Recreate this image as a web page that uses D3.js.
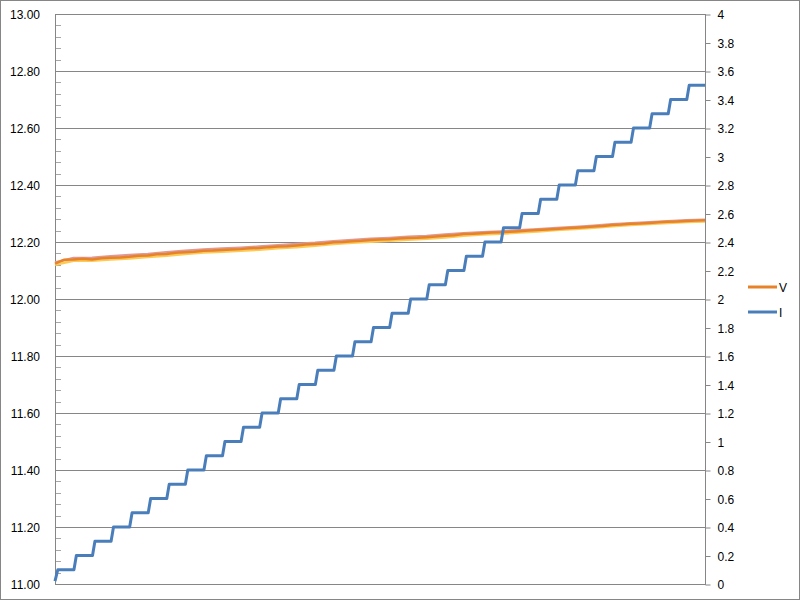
<!DOCTYPE html>
<html>
<head>
<meta charset="utf-8">
<script src="https://cdn.jsdelivr.net/npm/d3@7"></script>
<style>
  html, body { margin: 0; padding: 0; background: #fff; }
  svg { display: block; }
  text { font-family: "Liberation Sans", Arial, sans-serif; font-size: 12px; fill: #000; }
</style>
</head>
<body>
<div id="chart"></div>
<script>
// ---------- data ----------
const vTicks = [11.0, 11.2, 11.4, 11.6, 11.8, 12.0, 12.2, 12.4, 12.6, 12.8, 13.0];
const vTickLabels = ["11.00","11.20","11.40","11.60","11.80","12.00","12.20","12.40","12.60","12.80","13.00"];
const iTicks = [0,0.2,0.4,0.6,0.8,1,1.2,1.4,1.6,1.8,2,2.2,2.4,2.6,2.8,3,3.2,3.4,3.6,3.8,4];
const iTickLabels = ["0","0.2","0.4","0.6","0.8","1","1.2","1.4","1.6","1.8","2","2.2","2.4","2.6","2.8","3","3.2","3.4","3.6","3.8","4"];

const seriesNames = ["V", "I"];

// current (A) vs sample
const iTime = [0,1.5, 10.2,11.5, 20.2,21.5, 30.2,31.5, 40.2,41.5, 50.2,51.5, 60.2,61.5, 70.2,71.5, 80.2,81.5, 90.2,91.5,
  100.2,101.5, 110.2,111.5, 120.2,121.5, 130.2,131.5, 140.2,141.5, 150.2,151.5, 160.2,161.5, 170.2,171.5, 180.2,181.5, 190.2,191.5,
  200.2,201.5, 210.2,211.5, 220.2,221.5, 230.2,231.5, 240.2,241.5, 250.2,251.5, 260.2,261.5, 270.2,271.5, 280.2,281.5, 290.2,291.5,
  300.2,301.5, 310.2,311.5, 320.2,321.5, 330.2,331.5, 340.2,341.5, 350];
const iAmps = [0.02,0.1, 0.1,0.2, 0.2,0.3, 0.3,0.4, 0.4,0.5, 0.5,0.6, 0.6,0.7, 0.7,0.8, 0.8,0.9, 0.9,1.0,
  1.0,1.1, 1.1,1.2, 1.2,1.3, 1.3,1.4, 1.4,1.5, 1.5,1.6, 1.6,1.7, 1.7,1.8, 1.8,1.9, 1.9,2.0,
  2.0,2.1, 2.1,2.2, 2.2,2.3, 2.3,2.4, 2.4,2.5, 2.5,2.6, 2.6,2.7, 2.7,2.8, 2.8,2.9, 2.9,3.0,
  3.0,3.1, 3.1,3.2, 3.2,3.3, 3.3,3.4, 3.4,3.5, 3.5];

// voltage (V) vs sample
const vTime = [0,5,10,15,20,25,30,35,40,45,50,55,60,65,70,75,80,85,90,95,100,105,110,115,120,125,130,135,140,145,
  150,155,160,165,170,175,180,185,190,195,200,205,210,215,220,225,230,235,240,245,250,255,260,265,270,275,280,285,290,295,
  300,305,310,315,320,325,330,335,340,345,350];
const vVolts = [12.124,12.138,12.139,12.141,12.139,12.143,12.145,12.146,12.148,12.152,12.153,12.157,12.158,12.162,12.164,12.166,12.169,12.170,12.172,12.174,
  12.175,12.178,12.179,12.182,12.184,12.185,12.188,12.191,12.193,12.195,12.199,12.200,12.203,12.204,12.207,12.209,12.210,12.212,12.214,12.215,
  12.217,12.219,12.222,12.224,12.228,12.229,12.231,12.233,12.234,12.236,12.238,12.240,12.242,12.244,12.246,12.248,12.250,12.252,12.254,12.256,
  12.260,12.261,12.264,12.265,12.267,12.269,12.271,12.272,12.274,12.275,12.276];

// upper / lower voltage traces (no legend entry)
const bandTime = [0,10,20,30,40,50,60,70,80,90,100,110,120,130,140,150,160,170,180,190,200,210,220,230,240,250,260,270,280,290,300,310,320,330,340,350];
const vHigh = [12.128,12.144,12.145,12.150,12.154,12.158,12.164,12.169,12.174,12.177,12.180,12.184,12.189,12.193,12.197,12.203,12.207,12.211,12.214,12.218,
  12.221,12.226,12.231,12.234,12.237,12.241,12.245,12.249,12.253,12.257,12.262,12.266,12.269,12.273,12.276,12.278];
const vLow = [12.120,12.134,12.134,12.139,12.142,12.147,12.152,12.158,12.163,12.166,12.169,12.173,12.178,12.182,12.187,12.193,12.197,12.201,12.204,12.208,
  12.211,12.216,12.222,12.226,12.229,12.233,12.237,12.242,12.246,12.250,12.255,12.260,12.263,12.267,12.270,12.272];

// ---------- layout ----------
const W = 800, H = 601;
const plot = { left: 55, right: 705, top: 14, bottom: 584 };
const gridColor = "#868686";
const colors = { V: "#e8822a", I: "#4a7ebb", high: "#dd9a98", low: "#fbcb55" };

const svg = d3.select("#chart").append("svg").attr("width", W).attr("height", H);

svg.append("rect").attr("x", 0.5).attr("y", 0.5).attr("width", W - 1).attr("height", H - 2)
  .attr("fill", "#fff").attr("stroke", gridColor).attr("stroke-width", 1);

const x = d3.scaleLinear().domain([0, 350]).range([plot.left, plot.right]);
const yL = d3.scaleLinear().domain([11, 13]).range([plot.bottom, plot.top]);
const yR = d3.scaleLinear().domain([0, 4]).range([plot.bottom, plot.top]);

// gridlines
svg.append("g").selectAll("line").data(vTicks).join("line")
  .attr("x1", plot.left).attr("x2", plot.right)
  .attr("y1", d => Math.round(yL(d)) + 0.5).attr("y2", d => Math.round(yL(d)) + 0.5)
  .attr("stroke", gridColor).attr("stroke-width", 1);

// minor ticks on left axis (inside)
const minor = d3.range(0, 51).map(k => 11 + k * 0.04).filter((d, i) => i % 5 !== 0);
svg.append("g").selectAll("line").data(minor).join("line")
  .attr("x1", plot.left).attr("x2", plot.left + 6)
  .attr("y1", d => Math.round(yL(d)) + 0.5).attr("y2", d => Math.round(yL(d)) + 0.5)
  .attr("stroke", "#a6a6a6").attr("stroke-width", 1);

// axis lines
svg.append("line").attr("x1", plot.left + 0.5).attr("x2", plot.left + 0.5)
  .attr("y1", plot.top).attr("y2", plot.bottom + 1).attr("stroke", gridColor);
svg.append("line").attr("x1", plot.right + 0.5).attr("x2", plot.right + 0.5)
  .attr("y1", plot.top).attr("y2", plot.bottom + 1).attr("stroke", gridColor);

// left axis labels
const leftAxis = d3.axisLeft(yL).tickValues(vTicks)
  .tickFormat((d, i) => vTickLabels[i]).tickSize(0).tickPadding(0);
const gL = svg.append("g").attr("transform", `translate(${plot.left - 15},1)`).call(leftAxis);
gL.select(".domain").remove();
gL.selectAll("text").style("font-family", "'Liberation Sans', Arial, sans-serif").style("font-size", "12px").attr("fill", "#000");

// right axis with outward ticks
const rightAxis = d3.axisRight(yR).tickValues(iTicks)
  .tickFormat((d, i) => iTickLabels[i]).tickSize(5).tickPadding(7);
const gR = svg.append("g").attr("transform", `translate(${plot.right + 0.5},0)`).call(rightAxis);
gR.select(".domain").remove();
gR.selectAll("line").attr("stroke", gridColor).attr("transform", "translate(0,0.5)");
gR.selectAll("text").attr("dy", "0.4em").style("font-family", "'Liberation Sans', Arial, sans-serif").style("font-size", "12px").attr("fill", "#000");

// lines
const lineBand = (arr) => d3.line().x((d, i) => x(bandTime[i])).y((d, i) => yL(arr[i]));
svg.append("path").datum(vHigh).attr("d", lineBand(vHigh)).attr("fill", "none")
  .attr("stroke", colors.high).attr("stroke-width", 2.5).attr("stroke-linejoin", "round");
svg.append("path").datum(vLow).attr("d", lineBand(vLow)).attr("fill", "none")
  .attr("stroke", colors.low).attr("stroke-width", 2.5).attr("stroke-linejoin", "round");

const vLine = d3.line().x((d, i) => x(vTime[i])).y(d => yL(d));
svg.append("path").datum(vVolts).attr("d", vLine).attr("fill", "none")
  .attr("stroke", colors.V).attr("stroke-width", 2.5).attr("stroke-linejoin", "round");

const iLine = d3.line().x((d, i) => x(iTime[i])).y(d => yR(d));
svg.append("path").datum(iAmps).attr("d", iLine).attr("fill", "none")
  .attr("stroke", colors.I).attr("stroke-width", 3).attr("stroke-linejoin", "round");

// legend
const legend = svg.append("g");
seriesNames.forEach((name, i) => {
  const ly = 287 + i * 25;
  legend.append("line").attr("x1", 748).attr("x2", 777).attr("y1", ly).attr("y2", ly)
    .attr("stroke", colors[name]).attr("stroke-width", 3);
  legend.append("text").attr("x", 779).attr("y", ly + 4.5).text(name);
});
</script>
</body>
</html>
